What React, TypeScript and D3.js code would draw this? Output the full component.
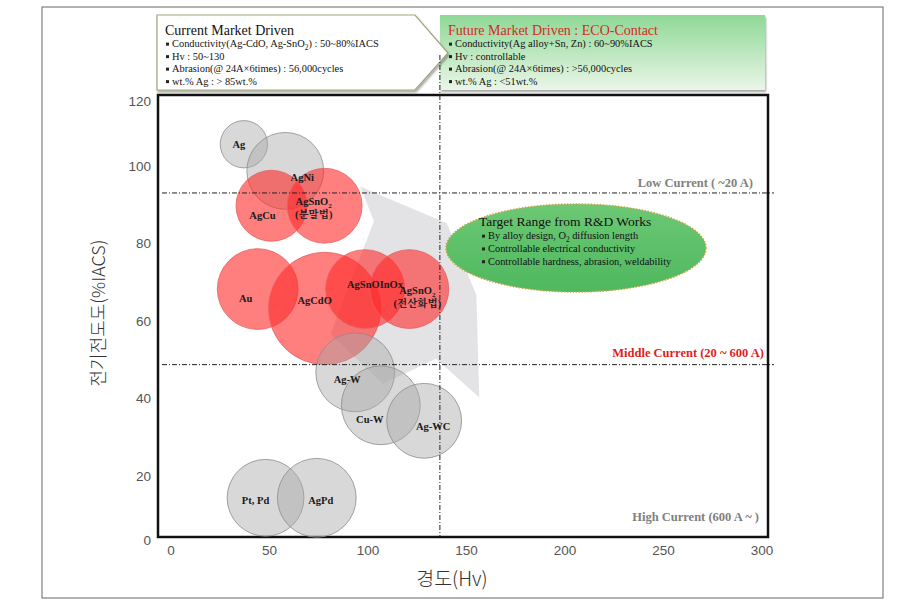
import React from 'react';
import * as d3 from 'd3';

// alloy families: hardness (Hv), conductivity (%IACS), spread (Hv), group
const alloyNames = ['Ag', 'AgNi', 'AgCu', 'AgSnO2 (분말법)', 'Au', 'AgCdO', 'AgSnOInOx', 'AgSnO2 (전산화법)', 'Ag-W', 'Cu-W', 'Ag-WC', 'Pt, Pd', 'AgPd'];
const hardness = [37, 58, 51, 78, 44, 78, 98.5, 121, 93.5, 106.5, 128.5, 48, 74];
const conductivity = [107, 99, 90, 90, 68.5, 63.5, 68.5, 68.5, 47, 38.5, 34.5, 13.5, 13.5];
const spread = [12, 19.5, 18, 19, 20.5, 28.5, 20, 20, 20, 20, 19, 19.5, 20];
const group = ['grey', 'grey', 'red', 'red', 'red', 'red', 'red', 'red', 'grey', 'grey', 'grey', 'grey', 'grey'];

const xTicks = [0, 50, 100, 150, 200, 250, 300];
const yTicks = [0, 20, 40, 60, 80, 100, 120];

// current class boundaries
const lowCurrentLimit = 93.3;
const middleCurrentLimit = 49;
const hardnessLimit = 136.5;

// the grey "direction" arrow, in (Hv, %IACS)
const arrowHv = [96, 140, 155, 156.5, 134.5, 107.5, 81, 103];
const arrowIacs = [95, 85.5, 67, 40.5, 50.5, 44, 57, 86];

const currentBullets = [
  ['Conductivity(Ag-CdO, Ag-SnO', '2', ') : 50~80%IACS'],
  ['Hv : 50~130'],
  ['Abrasion(@ 24A\u00d76times) : 56,000cycles'],
  ['wt.% Ag  : > 85wt.%'],
];
const futureBullets = [
  ['Conductivity(Ag alloy+Sn, Zn) : 60~90%IACS'],
  ['Hv : controllable'],
  ['Abrasion(@ 24A\u00d76times) : >56,000cycles'],
  ['wt.% Ag  : <51wt.%'],
];
const targetBullets = [
  ['By alloy design, O', '2', ' diffusion length'],
  ['Controllable electrical conductivity'],
  ['Controllable hardness, abrasion, weldability'],
];

const labelOffsets: Record<string, [number, number]> = {
  'Ag': [-5, 1], 'AgNi': [17, 8], 'AgCu': [-9, 11], 'AgSnO2 (분말법)': [-11, -1], 'Au': [-12, 11],
  'AgCdO': [-10, -7], 'AgSnOInOx': [10, -3], 'AgSnO2 (전산화법)': [8, 5], 'Ag-W': [-8, 8],
  'Cu-W': [-11, 15], 'Ag-WC': [9, 7], 'Pt, Pd': [-10, 4], 'AgPd': [4, 4],
};

const serif = "'Liberation Serif', 'Noto Serif CJK KR', 'Noto Sans CJK KR', serif";
const sans = "'Liberation Sans', 'DejaVu Sans', sans-serif";
const kr = "'Noto Sans CJK KR', sans-serif";

const Sub = ({ parts }: { parts: string[] }) => (
  <>
    {parts.map((p, i) =>
      i % 2 === 1 ? (
        <tspan key={i} fontSize="0.7em" dy="3">{p}</tspan>
      ) : (
        <tspan key={i} dy={i > 0 ? -3 : 0}>{p}</tspan>
      )
    )}
  </>
);

const AlloyLabel = ({ name, x, y }: { name: string; x: number; y: number }) => {
  const m = name.match(/^AgSnO2 \((.+)\)$/);
  if (m) {
    return (
      <text x={x} y={y} textAnchor="middle" fontFamily={serif} fontSize={10.5} fontWeight="bold" fill="#1a1a1a">
        <tspan>AgSnO</tspan>
        <tspan fontSize={7} dy={3}>2</tspan>
        <tspan x={x} dy={10}>({m[1]})</tspan>
      </text>
    );
  }
  return (
    <text x={x} y={y} textAnchor="middle" dominantBaseline="middle" fontFamily={serif} fontSize={10.5} fontWeight="bold" fill="#1a1a1a">
      {name}
    </text>
  );
};

const Bullet = ({ x, y, parts, size }: { x: number; y: number; parts: string[]; size: number }) => (
  <g>
    <rect x={x} y={y - size * 0.42} width={3} height={3} fill="#222" />
    <text x={x + 6} y={y} fontFamily={serif} fontSize={size} fill="#111">
      <Sub parts={parts} />
    </text>
  </g>
);

export default function App() {
  const width = 902;
  const height = 605;
  const frame = { left: 158, top: 95, right: 768, bottom: 537 };

  const x = d3.scaleLinear().domain([0, 300]).range([171, 762]);
  const y = d3.scaleLinear().domain([0, 20, 100, 120]).range([541, 477, 167, 102]);
  const r = (s: number) => x(s) - x(0);

  const arrowPath = d3.line<number>().x((_, i) => x(arrowHv[i])).y((_, i) => y(arrowIacs[i])).curve(d3.curveLinearClosed)(arrowHv);

  const boxPath = 'M157,15 L415,15 L448,53 L415,90 L157,90 Z';

  return (
    <svg width={width} height={height} style={{ position: 'absolute', left: 0, top: 0, background: '#fff' }}>
      <defs>
        <linearGradient id="futureFill" x1="0" y1="0" x2="0" y2="1">
          <stop offset="0" stopColor="#8fd896" />
          <stop offset="1" stopColor="#eaf6e8" />
        </linearGradient>
        <linearGradient id="targetFill" x1="0" y1="0" x2="0" y2="1">
          <stop offset="0" stopColor="#6cc874" />
          <stop offset="1" stopColor="#4fb85f" />
        </linearGradient>
        <filter id="shadow" x="-5%" y="-10%" width="110%" height="130%">
          <feDropShadow dx="1" dy="2" stdDeviation="1" floodColor="#000" floodOpacity="0.35" />
        </filter>
      </defs>

      <rect x={42} y={7} width={841} height={591} fill="none" stroke="#666" strokeWidth={1} />

      {/* top boxes */}
      <rect x={440} y={15} width={325} height={75} fill="url(#futureFill)" filter="url(#shadow)" />
      <path d={boxPath} fill="#fff" stroke="#a3a37a" strokeWidth={1.2} filter="url(#shadow)" />
      <text x={165} y={35} fontFamily={serif} fontSize={14} fill="#111">Current Market Driven</text>
      {currentBullets.map((b, i) => (
        <Bullet key={i} x={166} y={47 + i * 12.5} parts={b} size={10.4} />
      ))}
      <text x={448} y={35} fontFamily={serif} fontSize={14} fill="#d42a2a">Future Market Driven : ECO-Contact</text>
      {futureBullets.map((b, i) => (
        <Bullet key={i} x={449} y={47 + i * 12.5} parts={b} size={10.4} />
      ))}

      {/* plot frame */}
      <rect x={frame.left} y={frame.top} width={frame.right - frame.left} height={frame.bottom - frame.top} fill="#fff" stroke="#111" strokeWidth={2.5} />

      {/* arrow */}
      <path d={arrowPath ?? ''} fill="#d9d9de" opacity={0.75} />

      {/* target ellipse */}
      <ellipse cx={576} cy={248} rx={130} ry={44} fill="url(#targetFill)" stroke="#c9a445" strokeWidth={1.5} strokeDasharray="1.5,1.5" />
      <text x={479} y={226} fontFamily={serif} fontSize={13.5} fill="#111">Target Range from R&amp;D Works</text>
      {targetBullets.map((b, i) => (
        <Bullet key={i} x={482} y={239 + i * 12.8} parts={b} size={10.4} />
      ))}

      {/* bubbles */}
      {alloyNames.map((n, i) => (
        <circle
          key={n}
          cx={x(hardness[i])}
          cy={y(conductivity[i])}
          r={r(spread[i])}
          fill={group[i] === 'red' ? '#ff2a2a' : '#a8a8a8'}
          fillOpacity={group[i] === 'red' ? 0.6 : 0.45}
          stroke={group[i] === 'red' ? '#e86060' : '#8c8c8c'}
          strokeWidth={0.8}
        />
      ))}
      {alloyNames.map((n, i) => (
        <AlloyLabel key={n} name={n} x={x(hardness[i]) + labelOffsets[n][0]} y={y(conductivity[i]) + labelOffsets[n][1]} />
      ))}

      {/* boundaries */}
      <line x1={frame.left + 4} x2={frame.right + 6} y1={y(lowCurrentLimit)} y2={y(lowCurrentLimit)} stroke="#222" strokeWidth={1} strokeDasharray="5,2,1,2" />
      <line x1={frame.left + 4} x2={frame.right + 6} y1={y(middleCurrentLimit)} y2={y(middleCurrentLimit)} stroke="#222" strokeWidth={1} strokeDasharray="5,2,1,2" />
      <line x1={x(hardnessLimit)} x2={x(hardnessLimit)} y1={55} y2={frame.bottom} stroke="#222" strokeWidth={1} strokeDasharray="5,2,1,2" />

      <text x={753} y={187} textAnchor="end" fontFamily={serif} fontSize={12.5} fontWeight="bold" fill="#808080">Low Current ( ~20 A)</text>
      <text x={764} y={357} textAnchor="end" fontFamily={serif} fontSize={12.5} fontWeight="bold" fill="#e01e1e">Middle Current (20 ~ 600 A)</text>
      <text x={759} y={521} textAnchor="end" fontFamily={serif} fontSize={12.5} fontWeight="bold" fill="#808080">High Current (600 A ~ )</text>

      {/* axes */}
      {yTicks.map((t) => (
        <text key={t} x={151} y={y(t)} textAnchor="end" dominantBaseline="middle" fontFamily={sans} fontSize={13.5} fill="#555">{t}</text>
      ))}
      {xTicks.map((t) => (
        <text key={t} x={x(t)} y={551} textAnchor="middle" dominantBaseline="middle" fontFamily={sans} fontSize={13.5} fill="#555">{t}</text>
      ))}
      <text x={452} y={581} textAnchor="middle" dominantBaseline="middle" fontFamily={kr} fontSize={19.5} fontWeight={300} fill="#333">경도(Hv)</text>
      <text transform="translate(100,313) rotate(-90)" textAnchor="middle" dominantBaseline="middle" fontFamily={kr} fontSize={18} fontWeight={300} fill="#333">전기전도도(%IACS)</text>
    </svg>
  );
}
